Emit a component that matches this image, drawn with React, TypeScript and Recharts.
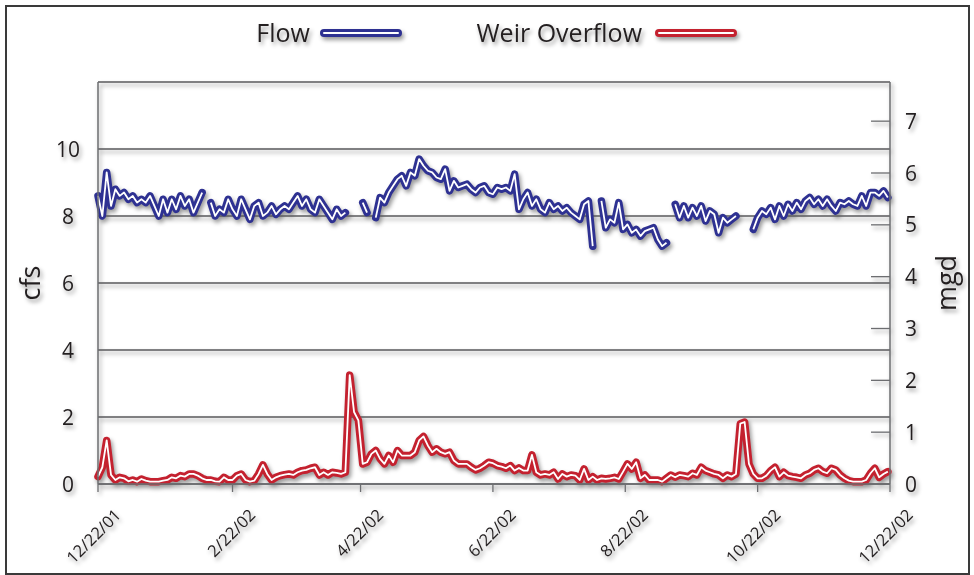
import { LineChart, Line, XAxis, YAxis, CartesianGrid } from 'recharts';

// one reading every 2 days from 12/22/01, values in cfs
const DAY_STEP = 2;

const tickDays = [0, 62, 121, 182, 243, 304, 365];
const tickLabels = ['12/22/01', '2/22/02', '4/22/02', '6/22/02', '8/22/02', '10/22/02', '12/22/02'];
const cfsTicks = [0, 2, 4, 6, 8, 10];
const mgdTicks = [0, 1, 2, 3, 4, 5, 6, 7];
const CFS_TO_MGD = 0.6463;

const flowCfs = [
  8.6, 8.0, 9.3, 8.3, 8.8, 8.6, 8.7, 8.5, 8.6, 8.4,
  8.5, 8.4, 8.6, 8.3, 8.0, 8.5, 8.1, 8.5, 8.2, 8.6,
  8.3, 8.5, 8.1, 8.4, 8.7, null, 8.4, 8.0, 8.2, 8.1,
  8.5, 8.2, 8.0, 8.5, 8.2, 7.9, 8.3, 8.4, 8.0, 8.1,
  8.3, 8.05, 8.2, 8.3, 8.2, 8.4, 8.6, 8.3, 8.5, 8.2,
  8.1, 8.5, 8.3, 8.1, 7.9, 8.2, 8.0, 8.1, null, null,
  null, 8.4, 8.1, null, 7.95, 8.55, 8.4, 8.7, 8.9, 9.1,
  9.2, 8.9, 9.3, 9.2, 9.7, 9.5, 9.35, 9.3, 9.15, 9.1,
  9.4, 8.75, 9.05, 8.85, 8.9, 8.95, 8.8, 8.7, 8.85, 8.9,
  8.7, 8.65, 8.85, 8.8, 8.85, 8.75, 9.25, 8.2, 8.5, 8.7,
  8.3, 8.5, 8.2, 8.1, 8.4, 8.2, 8.3, 8.15, 8.25, 8.1,
  8.0, 7.9, 8.35, 8.45, 7.1, null, 8.45, 7.65, 7.9, 7.8,
  8.4, 7.6, 7.75, 7.5, 7.6, 7.4, 7.55, 7.6, 7.65, 7.3,
  7.1, 7.2, null, 8.35, 7.95, 8.3, 7.95, 8.25, 8.0, 8.3,
  7.85, 8.15, 8.05, 7.5, 7.95, 7.8, 7.9, 8.0, null, null,
  null, 7.6, 7.95, 8.15, 8.05, 8.25, 7.9, 8.3, 8.0, 8.35,
  8.15, 8.4, 8.2, 8.45, 8.55, 8.35, 8.5, 8.3, 8.5, 8.3,
  8.15, 8.4, 8.35, 8.45, 8.35, 8.3, 8.6, 8.3, 8.7, 8.7,
  8.6, 8.75, 8.55,
];

const weirCfs = [
  0.22, 0.5, 1.3, 0.27, 0.12, 0.2, 0.17, 0.08, 0.12, 0.07,
  0.15, 0.1, 0.07, 0.07, 0.07, 0.1, 0.12, 0.2, 0.17, 0.25,
  0.22, 0.3, 0.3, 0.25, 0.17, 0.12, 0.12, 0.08, 0.07, 0.2,
  0.12, 0.12, 0.25, 0.3, 0.12, 0.07, 0.1, 0.3, 0.57, 0.3,
  0.12, 0.2, 0.25, 0.28, 0.3, 0.27, 0.35, 0.4, 0.42, 0.47,
  0.5, 0.27, 0.35, 0.27, 0.35, 0.33, 0.3, 0.35, 3.25, 2.15,
  1.9, 0.6, 0.65, 0.9, 1.0, 0.75, 0.6, 0.85, 0.65, 1.0,
  0.85, 0.85, 0.85, 0.95, 1.3, 1.42, 1.15, 0.95, 1.05, 0.95,
  0.9, 0.95, 0.7, 0.6, 0.6, 0.6, 0.5, 0.42, 0.47, 0.55,
  0.65, 0.62, 0.55, 0.52, 0.47, 0.55, 0.4, 0.48, 0.4, 0.4,
  0.87, 0.35, 0.27, 0.3, 0.27, 0.35, 0.15, 0.3, 0.22, 0.27,
  0.25, 0.12, 0.45, 0.12, 0.22, 0.12, 0.17, 0.15, 0.17, 0.2,
  0.15, 0.37, 0.6, 0.45, 0.65, 0.17, 0.27, 0.12, 0.12, 0.12,
  0.07, 0.17, 0.27, 0.2, 0.27, 0.25, 0.22, 0.32, 0.27, 0.5,
  0.4, 0.35, 0.3, 0.27, 0.17, 0.27, 0.22, 0.3, 1.8, 1.85,
  0.6, 0.3, 0.17, 0.17, 0.25, 0.4, 0.5, 0.22, 0.35, 0.25,
  0.22, 0.2, 0.17, 0.27, 0.32, 0.42, 0.47, 0.37, 0.32, 0.47,
  0.42, 0.27, 0.17, 0.1, 0.07, 0.07, 0.07, 0.12, 0.32, 0.47,
  0.2, 0.3, 0.37,
];

const data = flowCfs.map((flow, i) => ({ day: i * DAY_STEP, flow, weir: weirCfs[i] }));

const BLUE = '#2e3192';
const RED = '#c4212f';
const INK = '#231f20';
const AXIS = '#6d6e71';
const FONT = '"Open Sans", "Noto Sans", sans-serif';

function DateTick({ x, payload }: any) {
  const label = tickLabels[tickDays.indexOf(payload.value)];
  const tx = x + 24;
  const ty = 516;
  return (
    <text
      x={tx}
      y={ty}
      textAnchor="end"
      fill={INK}
      fontSize={16.5}
      fontFamily={FONT}
      transform={`rotate(-45, ${tx}, ${ty})`}
    >
      {label}
    </text>
  );
}

function CfsTick({ y, payload }: any) {
  return (
    <text x={68} y={y} dy="0.36em" textAnchor="middle" fill={INK} fontSize={21} fontFamily={FONT}>
      {payload.value}
    </text>
  );
}

function MgdTick({ y, payload }: any) {
  return (
    <g>
      <line x1={871} x2={890} y1={y} y2={y} stroke={AXIS} strokeWidth={1.3} />
      <text x={911} y={y} dy="0.36em" textAnchor="middle" fill={INK} fontSize={21} fontFamily={FONT}>
        {payload.value}
      </text>
    </g>
  );
}

function LegendSwatch({ x, color }: { x: number; color: string }) {
  return (
    <g>
      <line x1={x} x2={x + 74} y1={33} y2={33} stroke={color} strokeWidth={8} strokeLinecap="round" />
      <line x1={x} x2={x + 74} y1={33} y2={33} stroke="#fff" strokeWidth={2} strokeLinecap="round" />
    </g>
  );
}

export default function App() {
  const shadow = 'drop-shadow(2px 3px 2px rgba(0,0,0,0.4))';
  return (
    <div style={{ position: 'absolute', left: 0, top: 0, width: 974, height: 575, background: '#fff' }}>
      <div
        style={{
          position: 'absolute',
          left: 5,
          top: 5,
          width: 961,
          height: 566,
          border: '2px solid #3a3a3a',
        }}
      />
      <div style={{ position: 'absolute', left: 0, top: 0, filter: shadow }}>
        <LineChart width={974} height={575} data={data} margin={{ top: 82, right: 24, bottom: 31, left: 38 }}>
          <CartesianGrid vertical={false} yAxisId="cfs" stroke="#58595b" strokeWidth={1.3} />
          <XAxis
            dataKey="day"
            type="number"
            domain={[0, 365]}
            ticks={tickDays}
            interval={0}
            height={60}
            stroke={AXIS}
            axisLine={{ stroke: AXIS, strokeWidth: 1.5 }}
            tickLine={{ stroke: AXIS, strokeWidth: 1.3 }}
            tickSize={8}
            tick={<DateTick />}
          />
          <YAxis
            yAxisId="cfs"
            domain={[0, 12]}
            ticks={cfsTicks}
            width={60}
            axisLine={{ stroke: AXIS, strokeWidth: 1.5 }}
            tickLine={false}
            tick={<CfsTick />}
          />
          <YAxis
            yAxisId="mgd"
            orientation="right"
            domain={[0, 12 * CFS_TO_MGD]}
            ticks={mgdTicks}
            width={60}
            axisLine={{ stroke: AXIS, strokeWidth: 1.5 }}
            tickLine={false}
            tick={<MgdTick />}
            allowDataOverflow
          />
          <Line yAxisId="cfs" dataKey="weir" stroke={RED} strokeWidth={7.5} dot={false} strokeLinejoin="round" strokeLinecap="round" isAnimationActive={false} />
          <Line yAxisId="cfs" dataKey="weir" stroke="#fff" strokeWidth={1.8} dot={false} strokeLinejoin="round" isAnimationActive={false} />
          <Line yAxisId="cfs" dataKey="flow" stroke={BLUE} strokeWidth={7.5} dot={false} strokeLinejoin="round" strokeLinecap="round" isAnimationActive={false} />
          <Line yAxisId="cfs" dataKey="flow" stroke="#fff" strokeWidth={1.8} dot={false} strokeLinejoin="round" isAnimationActive={false} />
        </LineChart>
      </div>
      <svg
        width={974}
        height={575}
        style={{ position: 'absolute', left: 0, top: 0, filter: shadow, pointerEvents: 'none' }}
      >
        <text x={310} y={42} textAnchor="end" fill={INK} fontSize={25} fontFamily={FONT}>
          Flow
        </text>
        <LegendSwatch x={324} color={BLUE} />
        <text x={642} y={42} textAnchor="end" fill={INK} fontSize={25} fontFamily={FONT}>
          Weir Overflow
        </text>
        <LegendSwatch x={659} color={RED} />
        <text
          x={40}
          y={283}
          textAnchor="middle"
          fill={INK}
          fontSize={27}
          fontFamily={FONT}
          transform="rotate(-90, 40, 283)"
        >
          cfs
        </text>
        <text
          x={956}
          y={283}
          textAnchor="middle"
          fill={INK}
          fontSize={27}
          fontFamily={FONT}
          transform="rotate(-90, 956, 283)"
        >
          mgd
        </text>
      </svg>
    </div>
  );
}
